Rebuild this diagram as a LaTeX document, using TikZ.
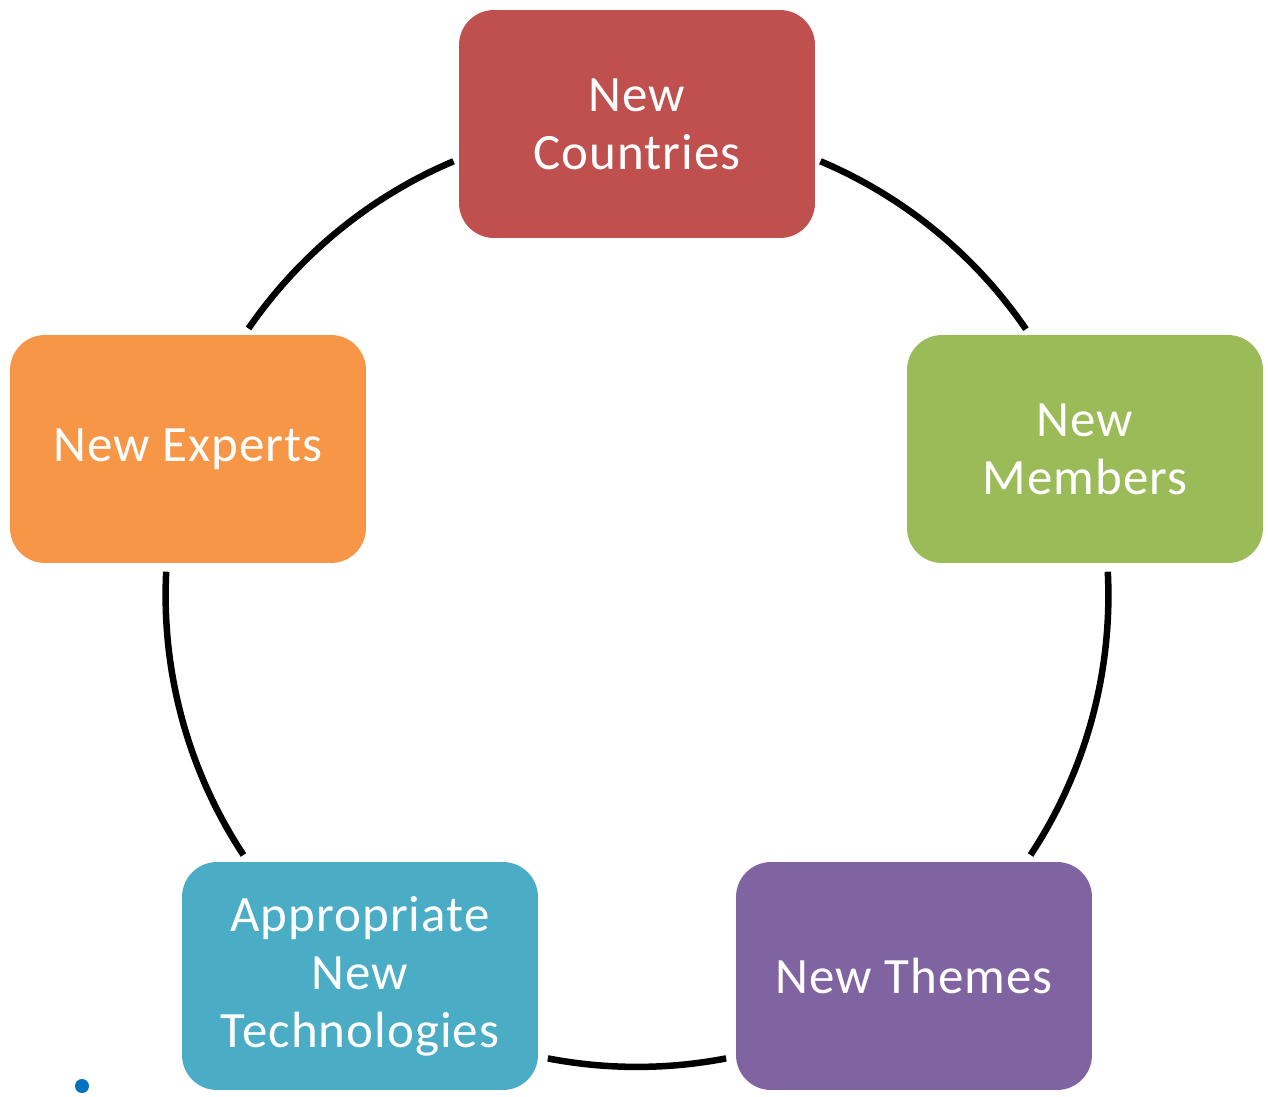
\documentclass[tikz,border=0pt]{standalone}
\usepackage{fontspec}
\setmainfont{Carlito}
\newfontfamily\boxfont{Carlito}[LetterSpace=2]
\usetikzlibrary{calc}
\definecolor{cred}{HTML}{C0504D}
\definecolor{cgreen}{HTML}{9BBB59}
\definecolor{cpurple}{HTML}{8064A2}
\definecolor{cblue}{HTML}{4BACC6}
\definecolor{corange}{HTML}{F79646}
\definecolor{cdot}{HTML}{0070C0}
\begin{document}
\begin{tikzpicture}[x=0.02cm,y=-0.02cm,
  cyclebox/.style={rounded corners=0.7cm, minimum width=7.12cm, minimum height=4.56cm,
    text=white, align=center, font=\boxfont\fontsize{29}{33}\selectfont, inner sep=0pt},
  ring/.style={line width=0.13cm, black}]
\useasboundingbox (0,0) rectangle (1268,1096);
\coordinate (c) at (637,595.5);
\node[cyclebox, fill=cred] (countries) at (637,124) {New\\Countries};
\node[cyclebox, fill=cgreen] (members) at (1085,449) {New\\Members};
\node[cyclebox, fill=cpurple] (themes) at (914,976) {New Themes};
\node[cyclebox, fill=cblue] (tech) at (360,976) {Appropriate\\New\\Technologies};
\node[cyclebox, fill=corange] (experts) at (188,449) {New Experts};
\draw[ring] ($(c)+(112.9:9.43cm)$) arc[start angle=112.9, end angle=145.5, radius=9.43cm];
\draw[ring] ($(c)+(67.1:9.43cm)$) arc[start angle=67.1, end angle=34.4, radius=9.43cm];
\draw[ring] ($(c)+(2.9:9.43cm)$) arc[start angle=2.9, end angle=-33.4, radius=9.43cm];
\draw[ring] ($(c)+(-79.1:9.43cm)$) arc[start angle=-79.1, end angle=-100.9, radius=9.43cm];
\draw[ring] ($(c)+(177.1:9.43cm)$) arc[start angle=177.1, end angle=213.4, radius=9.43cm];
\fill[cdot] (82,1086) circle[radius=0.14cm];
\end{tikzpicture}
\end{document}
